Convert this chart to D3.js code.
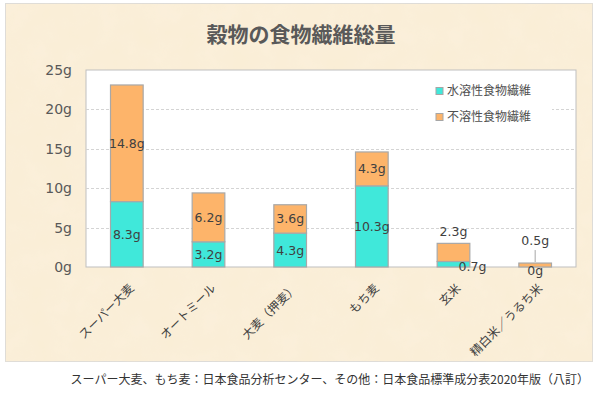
<!DOCTYPE html>
<html>
<head>
<meta charset="utf-8">
<script src="https://cdn.jsdelivr.net/npm/d3@7"></script>
<style>
  body { margin: 0; background: #fff; }
  svg { display: block; font-family: "DejaVu Sans", "Noto Sans CJK JP", sans-serif; }
</style>
</head>
<body>
<div id="chart"></div>
<script>
const categories = ['スーパー大麦', 'オートミール', '大麦（押麦）', 'もち麦', '玄米', '精白米／うるち米'];
const soluble = [8.3, 3.2, 4.3, 10.3, 0.7, 0];
const insoluble = [14.8, 6.2, 3.6, 4.3, 2.3, 0.5];
const seriesNames = ['水溶性食物繊維', '不溶性食物繊維'];
const yTicks = [0, 5, 10, 15, 20, 25];

const width = 600, height = 408;
const plot = { left: 86, right: 576, top: 70, bottom: 267 };
const colors = ['#40E8DA', '#FDB46A'];

const svg = d3.select('#chart').append('svg')
  .attr('width', width)
  .attr('height', height);

// paper-like background
const defs = svg.append('defs');
const filt = defs.append('filter').attr('id', 'paper').attr('x', 0).attr('y', 0).attr('width', '100%').attr('height', '100%');
filt.append('feTurbulence').attr('type', 'fractalNoise').attr('baseFrequency', 0.04).attr('numOctaves', 3).attr('seed', 4).attr('result', 'noise');
filt.append('feColorMatrix').attr('in', 'noise').attr('type', 'matrix')
  .attr('values', '0 0 0 0 0.93  0 0 0 0 0.82  0 0 0 0 0.6  0 0 0 0.4 0').attr('result', 'tint');
filt.append('feComposite').attr('in', 'tint').attr('in2', 'SourceGraphic').attr('operator', 'in').attr('result', 'tintc');
filt.append('feMerge').selectAll('feMergeNode').data(['SourceGraphic', 'tintc']).enter()
  .append('feMergeNode').attr('in', d => d);

svg.append('rect')
  .attr('x', 5.5).attr('y', 3.5).attr('width', 587).attr('height', 358)
  .attr('fill', '#FBF0DB')
  .attr('stroke', '#DADADA')
  .attr('filter', 'url(#paper)');

// title
svg.append('text')
  .attr('x', 301).attr('y', 42)
  .attr('text-anchor', 'middle')
  .attr('font-size', 21).attr('font-weight', 'bold')
  .attr('fill', '#595959')
  .text('穀物の食物繊維総量');

const x = d3.scaleBand()
  .domain(categories)
  .range([plot.left, plot.right])
  .paddingInner(0.6)
  .paddingOuter(0.3);

const y = d3.scaleLinear().domain([0, 25]).range([plot.bottom, plot.top]);

// plot area
svg.append('rect')
  .attr('x', plot.left).attr('y', plot.top)
  .attr('width', plot.right - plot.left).attr('height', plot.bottom - plot.top)
  .attr('fill', '#fff')
  .attr('stroke', '#BFBFBF');

svg.append('g').selectAll('line')
  .data(yTicks.filter(d => d > 0 && d < 25))
  .enter().append('line')
  .attr('x1', plot.left).attr('x2', plot.right)
  .attr('y1', d => Math.round(y(d)) + 0.5).attr('y2', d => Math.round(y(d)) + 0.5)
  .attr('stroke', '#D4D4D4')
  .attr('stroke-dasharray', '3,2');

// y axis labels
const yAxis = svg.append('g')
  .attr('transform', `translate(${plot.left - 14},0)`)
  .call(d3.axisLeft(y).tickValues(yTicks).tickFormat(d => d + 'g').tickSize(0).tickPadding(0));
yAxis.select('.domain').remove();
yAxis.selectAll('text')
  .attr('font-size', 14)
  .attr('font-family', '"DejaVu Sans", sans-serif')
  .attr('fill', '#595959');

// stacked bars
const rows = categories.map((c, i) => ({ cat: c, soluble: soluble[i], insoluble: insoluble[i] }));
const stack = d3.stack().keys(['soluble', 'insoluble'])(rows);

const groups = svg.append('g').selectAll('g')
  .data(stack)
  .enter().append('g')
  .attr('fill', (d, i) => colors[i]);

groups.selectAll('rect')
  .data(d => d)
  .enter().append('rect')
  .attr('x', d => x(d.data.cat))
  .attr('width', x.bandwidth())
  .attr('y', d => y(d[1]))
  .attr('height', d => y(d[0]) - y(d[1]))
  .attr('stroke', '#A8A8A8')
  .attr('stroke-width', 1.2);

// data labels
const labels = svg.append('g')
  .attr('font-size', 12.5)
  .attr('fill', '#404040')
  .attr('text-anchor', 'middle');

stack.forEach((s, si) => {
  s.forEach((d, i) => {
    const v = d[1] - d[0];
    const cx = x(d.data.cat) + x.bandwidth() / 2;
    let lx = cx, ly = (y(d[0]) + y(d[1])) / 2;
    if (d.data.cat === '玄米') {
      if (si === 0) { lx = cx + 19; ly = y(0) - 1; }
      else { ly = y(d[1]) - 12; }
    }
    if (d.data.cat === '精白米／うるち米') {
      if (si === 0) { ly = y(0) + 3; }
      else {
        ly = y(d[1]) - 23;
        labels.append('line')
          .attr('x1', cx).attr('x2', cx)
          .attr('y1', ly + 10).attr('y2', y(d[1]) - 1)
          .attr('stroke', '#A6A6A6');
      }
    }
    labels.append('text')
      .attr('x', lx).attr('y', ly)
      .attr('dy', '0.36em')
      .text(v.toFixed(1).replace(/\.0$/, '') + 'g');
  });
});

// x labels
svg.append('g').selectAll('text')
  .data(categories)
  .enter().append('text')
  .attr('transform', d => `translate(${x(d) + x.bandwidth() / 2 + 8},${plot.bottom + 22}) rotate(-45)`)
  .attr('text-anchor', 'end')
  .attr('font-size', 12)
  .attr('font-family', '"Noto Sans CJK JP", sans-serif')
  .attr('fill', '#404040')
  .text(d => d);

// legend
const legend = svg.append('g');
legend.append('rect')
  .attr('x', 418).attr('y', 80).attr('width', 134).attr('height', 48)
  .attr('fill', '#fff');
const items = legend.selectAll('g.item')
  .data(seriesNames)
  .enter().append('g')
  .attr('transform', (d, i) => `translate(436,${91 + i * 26})`);
items.append('rect')
  .attr('x', 0).attr('y', -3.5).attr('width', 7).attr('height', 7)
  .attr('fill', (d, i) => colors[i])
  .attr('stroke', '#A6A6A6');
items.append('text')
  .attr('x', 11).attr('y', 0).attr('dy', '0.36em')
  .attr('font-size', 12)
  .attr('font-family', '"Noto Sans CJK JP", sans-serif')
  .attr('fill', '#505050')
  .text(d => d);

// source note
svg.append('text')
  .attr('x', 589).attr('y', 380)
  .attr('dy', '0.36em')
  .attr('text-anchor', 'end')
  .attr('font-size', 12)
  .attr('font-family', '"Noto Sans CJK JP", sans-serif')
  .attr('fill', '#333')
  .text('スーパー大麦、もち麦：日本食品分析センター、その他：日本食品標準成分表2020年版（八訂）');
</script>
</body>
</html>
